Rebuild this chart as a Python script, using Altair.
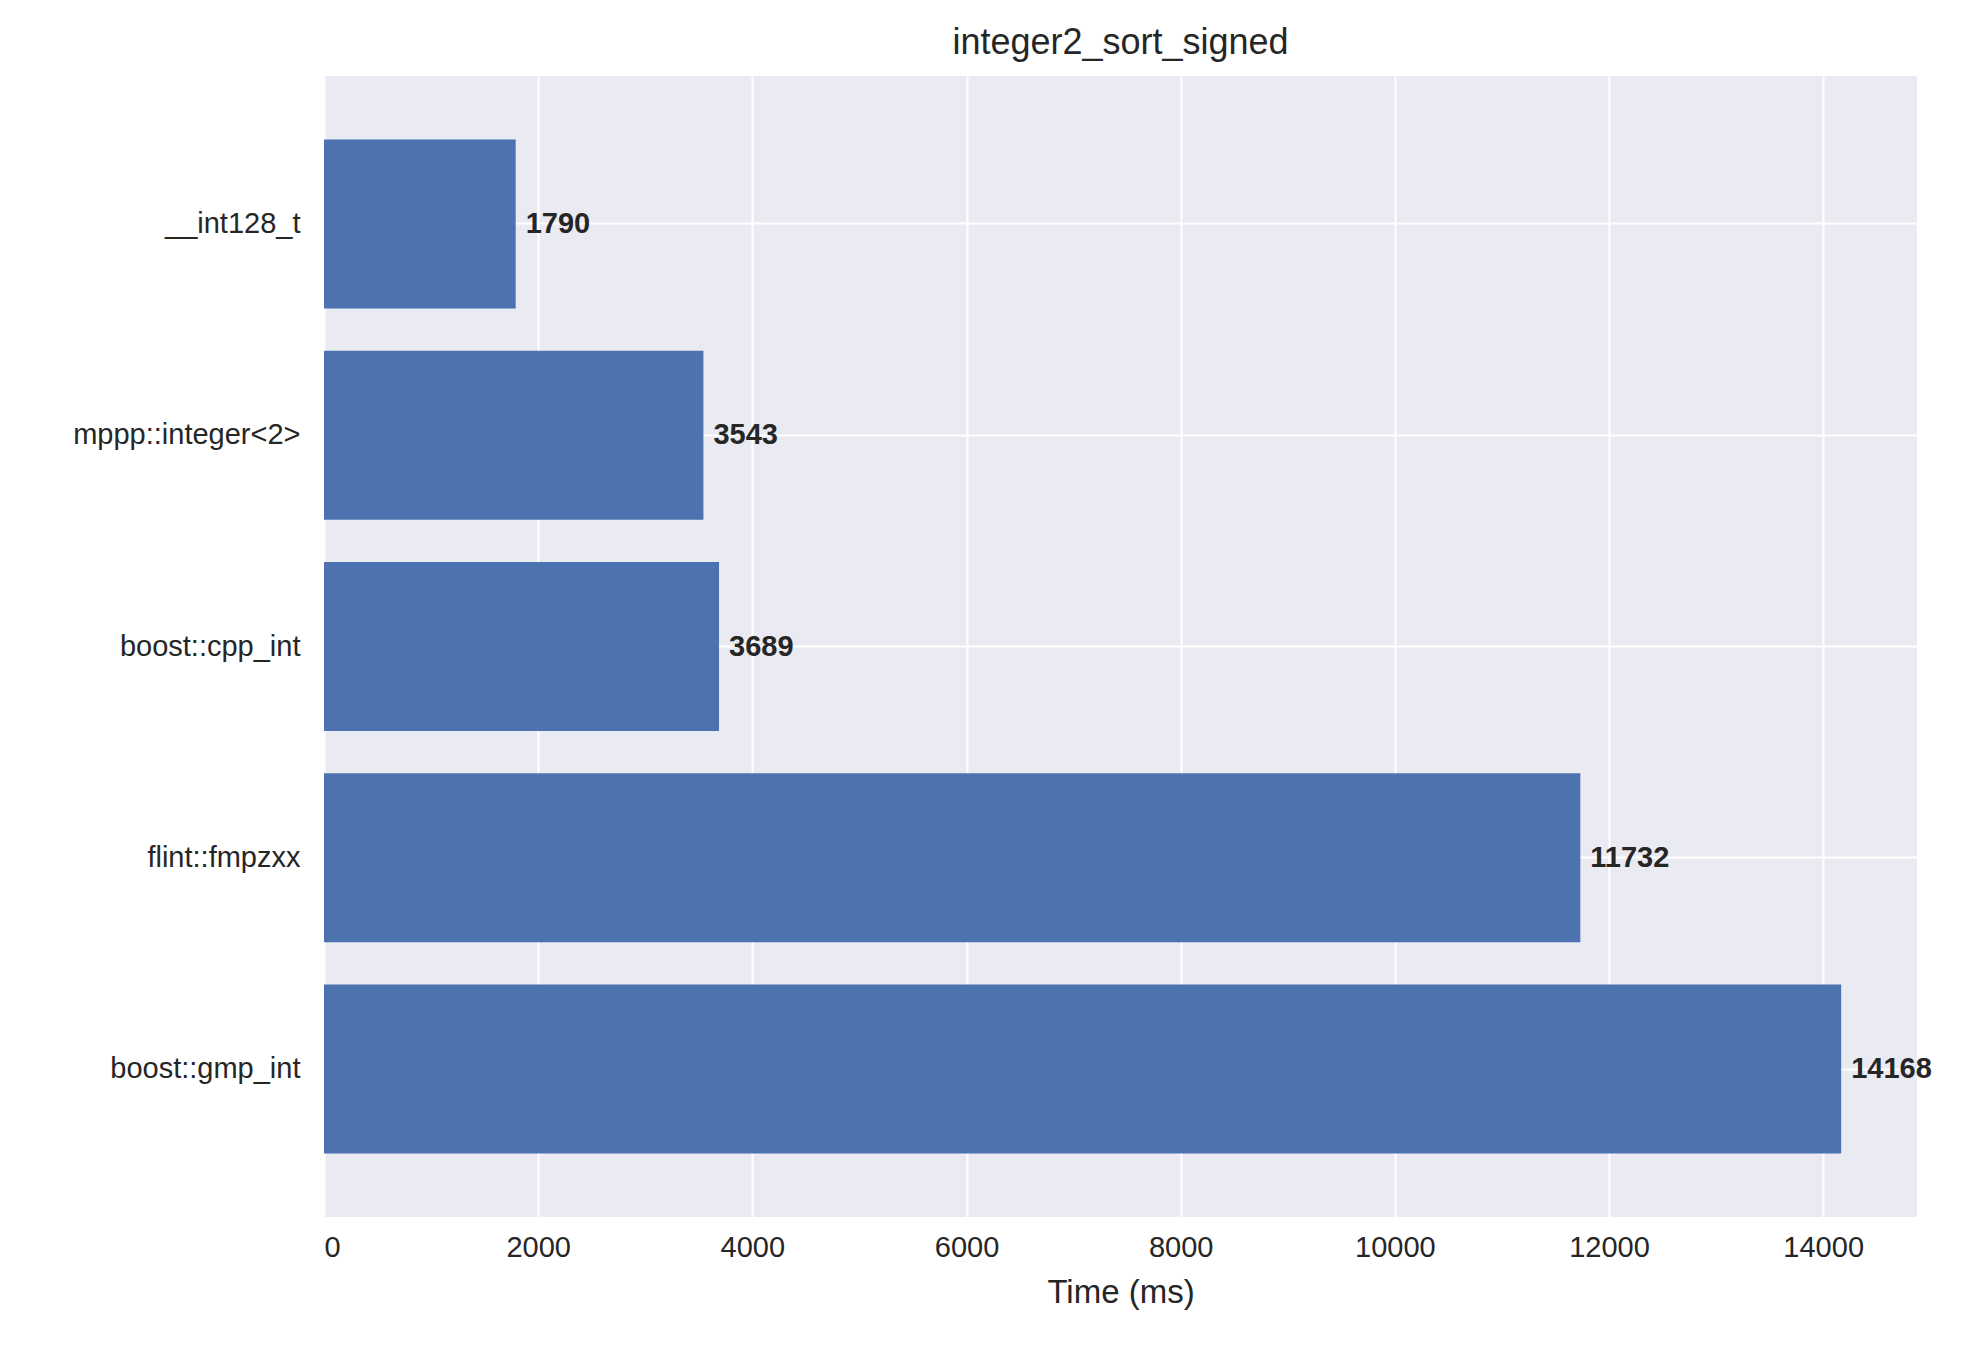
import altair as alt
import pandas as pd

names = ["__int128_t", "mppp::integer<2>", "boost::cpp_int", "flint::fmpzxx", "boost::gmp_int"]
times = [1790, 3543, 3689, 11732, 14168]
df = pd.DataFrame({"name": names, "time": times})

F = "Liberation Sans"
y = alt.Y("name:N", sort=names, title=None,
          scale=alt.Scale(paddingInner=0.2, paddingOuter=0.3),
          axis=alt.Axis(grid=True, bandPosition=0.5, gridColor="white", gridWidth=2,
                        domain=False, ticks=False, labelFontSize=29, labelFont=F,
                        labelColor="#262626", labelPadding=24, labelLimit=400))
x = alt.X("time:Q", title="Time (ms)", scale=alt.Scale(domain=[0, 14876], nice=False),
          axis=alt.Axis(values=list(range(0, 14001, 2000)), format="d", grid=True, gridColor="white",
                        gridWidth=2, domain=False, ticks=False, labelFontSize=29,
                        labelFont=F, labelColor="#262626", titleFontSize=33,
                        titleFont=F, titleFontWeight="normal", titleColor="#262626",
                        labelPadding=16, titlePadding=14))
base = alt.Chart(df).encode(y=y, x=x)
bars = base.mark_bar(color="#4C72B0")
text = base.mark_text(align="left", dx=10, fontWeight="bold", fontSize=29, font=F,
                      color="#262626").encode(text="time:Q")
chart = (bars + text).properties(
    width=1593, height=1141,
    title=alt.Title("integer2_sort_signed", fontSize=36, font=F, fontWeight="normal",
                    color="#262626", offset=14),
    autosize=alt.AutoSizeParams(type="none"),
    padding={"left": 316, "top": 68, "right": 47, "bottom": 124},
).configure(background="white").configure_view(fill="#EAEAF2", strokeWidth=0)
chart.save("out.html", embed_options={"renderer": "svg", "actions": False})
